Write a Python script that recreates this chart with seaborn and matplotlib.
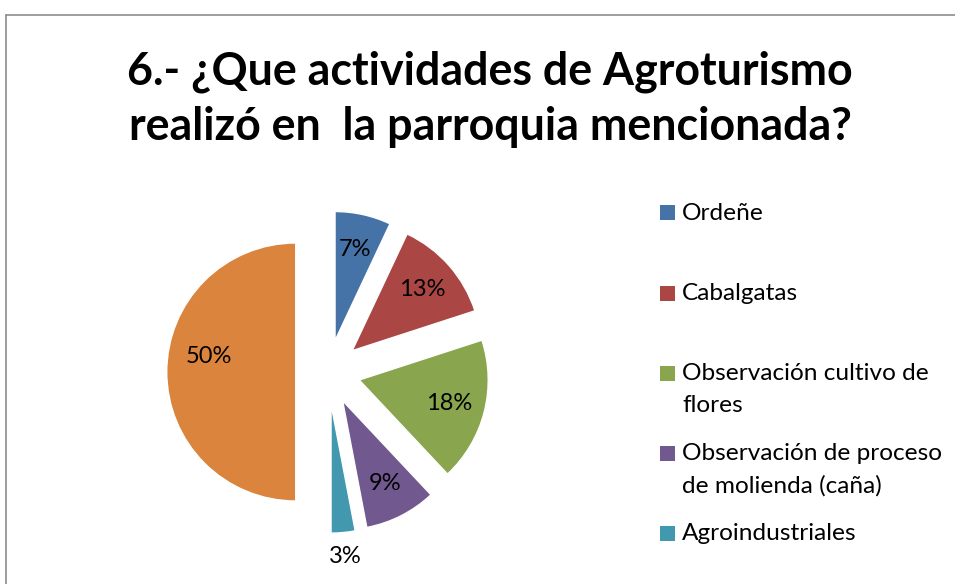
import numpy as np
import matplotlib.pyplot as plt
import seaborn as sns
from matplotlib.patches import Rectangle
from matplotlib.lines import Line2D

# data
actividades = ["Ordeñe", "Cabalgatas", "Observación cultivo de\nflores",
               "Observación de proceso\nde molienda (caña)", "Agroindustriales", ""]
porcentajes = [7, 13, 18, 9, 3, 50]
colores = ["#4572A7", "#AA4643", "#89A54E", "#71588F", "#4198AF", "#DB843D"]
titulo = "6.- ¿Que actividades de Agroturismo\nrealizó en  la parroquia mencionada?"

sns.set_theme(style="white")
plt.rcParams['font.family'] = ['Lato', 'DejaVu Sans']

W, H = 955, 584
fig = plt.figure(figsize=(W / 100, H / 100), dpi=100)

# chart frame (gray border, runs off right/bottom)
fig.add_artist(Line2D([5.5 / W, 5.5 / W], [0, 1 - 14.5 / H], transform=fig.transFigure,
                      color="#8c8c8c", lw=1.2))
fig.add_artist(Line2D([5.5 / W, 1], [1 - 14.5 / H, 1 - 14.5 / H], transform=fig.transFigure,
                      color="#8c8c8c", lw=1.2))

fig.text(490 / W, 1 - 99 / H, titulo, ha="center", va="center", fontsize=32.2,
         fontweight="bold", linespacing=1.38, color="black")

# pie axes: center (328, 372) px, radius 129 px
R = 129
cx, cy = 328, 372
side = 3 * R
ax = fig.add_axes([(cx - side / 2) / W, (H - cy - side / 2) / H, side / W, side / H])
wedges, texts, autotexts = ax.pie(porcentajes, colors=colores, explode=[0.25] * 6,
                                  startangle=90, counterclock=False,
                                  autopct="%1.0f%%", pctdistance=0.72,
                                  textprops={"fontsize": 17, "color": "black"})
ax.set_xlim(-1.5, 1.5)
ax.set_ylim(-1.5, 1.5)
ax.set_aspect("equal")
ax.axis("off")

# label placement like Excel: small slice outside, big one slightly raised
for w, t, v in zip(wedges, autotexts, porcentajes):
    ang = np.deg2rad((w.theta1 + w.theta2) / 2)
    if v < 5:
        t.set_position((0.25 * np.cos(ang) + 1.19 * np.cos(ang),
                        0.25 * np.sin(ang) + 1.19 * np.sin(ang)))
    elif v >= 50:
        a2 = ang - np.deg2rad(10)
        t.set_position((0.25 * np.cos(ang) + 0.68 * np.cos(a2),
                        0.25 * np.sin(ang) + 0.68 * np.sin(a2)))

# legend (Excel-style, evenly spaced first lines)
y0, step = 213, 80
for i, (lab, col) in enumerate(zip(actividades[:5], colores[:5])):
    y = y0 + i * step
    fig.add_artist(Rectangle((660 / W, 1 - (y + 7.5) / H), 15 / W, 15 / H,
                             transform=fig.transFigure, facecolor=col, edgecolor="none"))
    fig.text(682 / W, 1 - (y - 10) / H, lab, ha="left", va="top", fontsize=17.6,
             linespacing=1.65, color="black")

fig.savefig("out.png", dpi=100)
